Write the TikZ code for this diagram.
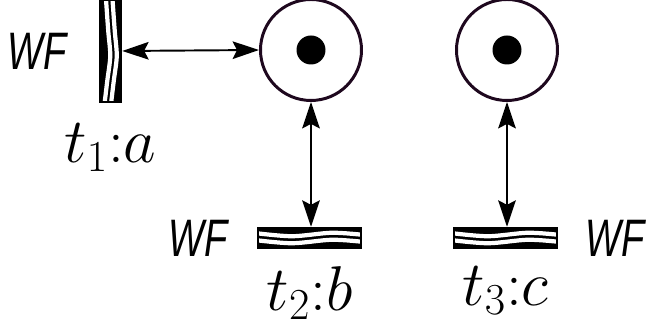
\documentclass[tikz,border=0pt]{standalone}
\usepackage{fix-cm}
\usepackage{fontspec}
\newfontfamily\wffont{Liberation Sans}
\usetikzlibrary{positioning,arrows.meta}

\definecolor{bordplace}{RGB}{30,8,30}
\newcommand{\wftext}{\scalebox{0.72}[1]{WF}}

\tikzset{
  place/.style={circle,draw=bordplace,line width=1.7pt,minimum size=2.02cm,inner sep=0pt},
  % transitions pleines avec rayures blanches
  transh/.style={draw,fill,line width=1.4pt,minimum width=2.06cm,minimum height=0.4cm,inner sep=0pt,
    path picture={
      \begin{scope}[shift={(path picture bounding box.center)}]
        \foreach \dy in {0.07,-0.07}
          \draw[white,line width=2.4pt] plot[smooth] coordinates
            {(-1.1,{\dy+0.03}) (-0.35,{\dy-0.035}) (0.45,{\dy+0.035}) (1.1,{\dy-0.01})};
      \end{scope}}},
  transv/.style={draw,fill,line width=1.4pt,minimum width=0.42cm,minimum height=2.04cm,inner sep=0pt,
    path picture={
      \begin{scope}[shift={(path picture bounding box.center)}]
        \foreach \dx in {0.065,-0.065}
          \draw[white,line width=2.4pt] plot[smooth] coordinates
            {({\dx-0.03},1.1) ({\dx+0.02},0.4) ({\dx+0.06},-0.1) ({\dx},-0.6) ({\dx-0.06},-1.1)};
      \end{scope}}},
  arc/.style={line width=1.1pt,{Stealth[length=15pt,width=10pt,inset=2.5pt]}-{Stealth[length=15pt,width=10pt,inset=2.5pt]}},
  wf/.style={inner sep=0pt,font=\wffont\itshape\fontsize{30}{36}\selectfont},
  nom/.style={inner sep=0pt,font=\fontsize{36}{44}\selectfont}
}

\begin{document}
\begin{tikzpicture}

\useasboundingbox (0,0) rectangle (12.92,6.56);

% places

\node[place] (p1) at (6.22,5.56) {};
\node[place] (p2) at (10.14,5.56) {};
\fill (p1) circle (0.29);
\fill (p2) circle (0.29);

% transitions

\node[transv] (t1) at (2.21,5.54) {};
\node[transh] (t2) at (6.19,1.8) {};
\node[transh] (t3) at (10.11,1.8) {};

\node[wf,left=0.64cm of t1] (wf1) {\wftext};
\node[wf,left=0.58cm of t2] (wf2) {\wftext};
\node[wf,right=0.54cm of t3] (wf3) {\wftext};

\node[nom,below=0.4cm of t1] (n1) {$t_1{:}a$};
\node[nom,below=0.34cm of t2] (n2) {$t_2{:}b$};
\node[nom,below=0.34cm of t3] (n3) {$t_3{:}c$};

% arcs

\draw[arc] (t1.east) -- (p1.west);
\draw[arc] (p1.south) -- (p1.south |- t2.north);
\draw[arc] (p2.south) -- (p2.south |- t3.north);

\end{tikzpicture}
\end{document}
